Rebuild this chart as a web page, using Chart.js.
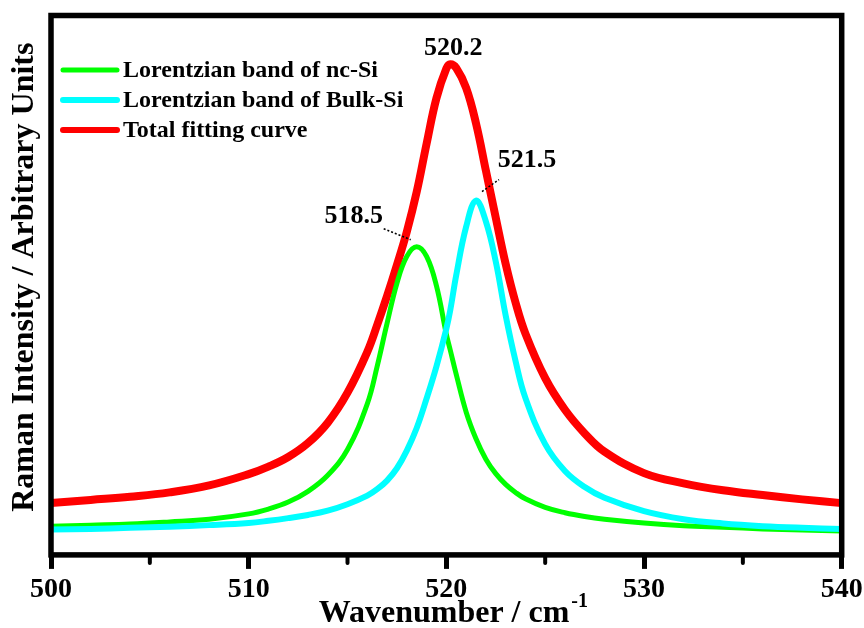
<!DOCTYPE html>
<html>
<head>
<meta charset="utf-8">
<script src="https://cdn.jsdelivr.net/npm/chart.js@4.4.0/dist/chart.umd.min.js"></script>
<style>
    html, body { margin: 0; padding: 0; background: #fff; }
    canvas { display: block; }
</style>
</head>
<body>
<canvas id="ramanChart" width="864" height="628"></canvas>
<script>
// values (intensity in arbitrary units)
const wavenumbers = [500, 502, 504, 506, 508, 510, 511, 512, 513, 514, 515, 516, 516.5, 517, 517.5, 518, 518.5, 519, 519.5, 520, 520.2, 520.5, 521, 521.5, 522, 522.5, 523, 523.5, 524, 525, 526, 527, 528, 530, 532, 534, 536, 538, 540];
const ncSi = [4.7, 4.9, 5.1, 5.5, 6.0, 7.0, 7.9, 9.2, 11.2, 14.2, 19.0, 27.5, 34.5, 42.5, 50, 55, 56.8, 55, 49.5, 40.5, 37.5, 33, 26, 21, 17.2, 14.5, 12.5, 11, 9.8, 8.2, 7.2, 6.5, 6.0, 5.3, 4.8, 4.5, 4.2, 4.0, 3.8];
const bulkSi = [4.1, 4.2, 4.4, 4.6, 4.9, 5.3, 5.7, 6.2, 6.8, 7.6, 8.8, 10.4, 11.6, 13.2, 15.5, 18.8, 23, 28.5, 34.5, 41.5, 45, 51.5, 60.5, 65.4, 61.5, 54, 44, 35.5, 28.6, 20, 15, 12, 10, 7.5, 6.0, 5.2, 4.7, 4.4, 4.2];
const totalFit = [9.0, 9.6, 10.2, 11.0, 12.3, 14.4, 15.8, 17.6, 20.2, 24.0, 29.6, 37.2, 42.2, 47.6, 53.4, 59.6, 67, 76, 84.5, 90, 90.8, 90.1, 86.4, 79.8, 71, 62.2, 53.6, 46.4, 40.6, 32.3, 26.4, 22, 18.6, 14.6, 12.7, 11.4, 10.5, 9.7, 9.0];

const seriesNames = ['Lorentzian band of nc-Si', 'Lorentzian band of Bulk-Si', 'Total fitting curve'];
const seriesColors = ['#00ff00', '#00ffff', '#ff0000'];

const xMajorTicks = [500, 510, 520, 530, 540];
const xMinorTicks = [505, 515, 525, 535];

const peakPositions = [518.5, 520.2, 521.5];
const peakLabels = ['518.5', '520.2', '521.5'];
const peakSeries = [0, 2, 1];

const serif = '"Liberation Serif", "Times New Roman", serif';

function toPoints(values) {
    return wavenumbers.map((x, i) => ({ x: x, y: values[i] }));
}

// frame, minor ticks, titles, legend and peak labels
const decorations = {
    id: 'decorations',
    afterDraw(chart) {
        const ctx = chart.ctx;
        const area = chart.chartArea;
        const xs = chart.scales.x;
        const ys = chart.scales.y;

        ctx.save();
        ctx.strokeStyle = '#000';
        ctx.lineWidth = 5.5;
        ctx.strokeRect(area.left, area.top, area.right - area.left, area.bottom - area.top);

        ctx.lineWidth = 4;
        ctx.lineCap = 'round';
        xMinorTicks.forEach(v => {
            let px = xs.getPixelForValue(v);
            ctx.beginPath();
            ctx.moveTo(px, area.bottom);
            ctx.lineTo(px, area.bottom + 8);
            ctx.stroke();
        });
        ctx.lineCap = 'butt';

        // x title with superscript
        ctx.fillStyle = '#000';
        ctx.textBaseline = 'alphabetic';
        ctx.textAlign = 'left';
        let main = 'Wavenumber / cm';
        let sup = '-1';
        ctx.font = 'bold 32px ' + serif;
        let w1 = ctx.measureText(main).width;
        ctx.font = 'bold 20px ' + serif;
        let w2 = ctx.measureText(sup).width;
        let cx = (area.left + area.right) / 2 + 6;
        let startX = cx - (w1 + w2) / 2;
        ctx.font = 'bold 32px ' + serif;
        ctx.fillText(main, startX, 622);
        ctx.font = 'bold 20px ' + serif;
        ctx.fillText(sup, startX + w1 + 2, 607);

        // y title
        ctx.save();
        ctx.translate(25, (area.top + area.bottom) / 2 - 8);
        ctx.rotate(-Math.PI / 2);
        ctx.textAlign = 'center';
        ctx.textBaseline = 'middle';
        ctx.font = 'bold 32px ' + serif;
        ctx.fillText('Raman Intensity / Arbitrary Units', 0, 0);
        ctx.restore();

        // legend
        ctx.font = 'bold 24px ' + serif;
        ctx.textBaseline = 'middle';
        chart.data.datasets.forEach((ds, i) => {
            let y = area.top + 54.5 + i * 30;
            ctx.strokeStyle = ds.borderColor;
            ctx.lineWidth = Math.min(ds.borderWidth, 6);
            ctx.lineCap = 'round';
            ctx.beginPath();
            ctx.moveTo(area.left + 12, y);
            ctx.lineTo(area.left + 66, y);
            ctx.stroke();
            ctx.fillText(ds.label, area.left + 72, y + 1);
        });

        // peak labels
        const labelOffsets = [
            { dx: -63, dy: -24, lead: [-33, -18, -6, -7] },
            { dx: 3, dy: -9, lead: null },
            { dx: 51, dy: -34, lead: [6, -9, 23, -21] }
        ];
        ctx.font = 'bold 26px ' + serif;
        ctx.textAlign = 'center';
        ctx.textBaseline = 'alphabetic';
        peakPositions.forEach((pos, i) => {
            let idx = wavenumbers.indexOf(pos);
            let ds = chart.data.datasets[peakSeries[i]];
            let px = xs.getPixelForValue(pos);
            let py = ys.getPixelForValue(ds.data[idx].y);
            let off = labelOffsets[i];
            ctx.fillStyle = '#000';
            ctx.fillText(peakLabels[i], px + off.dx, py + off.dy);
            if (off.lead) {
                ctx.strokeStyle = '#000';
                ctx.lineWidth = 1.5;
                ctx.lineCap = 'butt';
                ctx.setLineDash([2, 2]);
                ctx.beginPath();
                ctx.moveTo(px + off.lead[0], py + off.lead[1]);
                ctx.lineTo(px + off.lead[2], py + off.lead[3]);
                ctx.stroke();
                ctx.setLineDash([]);
            }
        });
        ctx.restore();
    }
};

new Chart(document.getElementById('ramanChart'), {
    type: 'line',
    data: {
        datasets: [
            { label: seriesNames[0], data: toPoints(ncSi), borderColor: seriesColors[0], borderWidth: 5, order: 2 },
            { label: seriesNames[1], data: toPoints(bulkSi), borderColor: seriesColors[1], borderWidth: 6, order: 1 },
            { label: seriesNames[2], data: toPoints(totalFit), borderColor: seriesColors[2], borderWidth: 8, order: 3 }
        ]
    },
    options: {
        responsive: false,
        animation: false,
        layout: {
            padding: { left: 51, right: 22.3, top: 15.5, bottom: 17.5 }
        },
        elements: {
            point: { radius: 0 },
            line: { tension: 0.4, fill: false, borderCapStyle: 'round', borderJoinStyle: 'round' }
        },
        plugins: {
            legend: { display: false },
            tooltip: { enabled: false }
        },
        scales: {
            x: {
                type: 'linear',
                min: 500,
                max: 540,
                afterBuildTicks: axis => {
                    axis.ticks = xMajorTicks.map(v => ({ value: v }));
                },
                afterFit: axis => {
                    // labels at the ends may spill into the page margin
                    axis.paddingLeft = 0;
                    axis.paddingRight = 0;
                },
                border: { display: false },
                grid: {
                    drawOnChartArea: false,
                    drawTicks: true,
                    tickLength: 14,
                    tickWidth: 5,
                    tickColor: '#000'
                },
                ticks: {
                    color: '#000',
                    padding: 4,
                    maxRotation: 0,
                    font: { family: serif, size: 28, weight: 'bold' }
                }
            },
            y: {
                display: false,
                min: -0.65,
                max: 99.9
            }
        }
    },
    plugins: [decorations]
});
</script>
</body>
</html>
